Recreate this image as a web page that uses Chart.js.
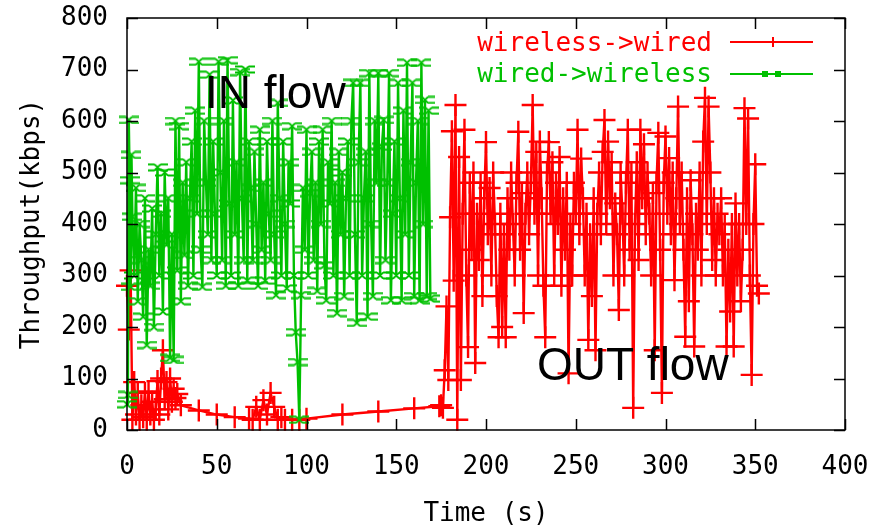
<!DOCTYPE html>
<html><head><meta charset="utf-8">
<script src="https://cdn.jsdelivr.net/npm/chart.js@4"></script>
<style>html,body{margin:0;padding:0;background:#fff;}#wrap{width:879px;height:527px;position:relative;}</style>
</head><body><div id="wrap"><canvas id="c" width="879" height="527"></canvas></div>
<script>
// ---- data ----
const seriesNames = ['wireless->wired', 'wired->wireless'];
const xTicks = [0, 50, 100, 150, 200, 250, 300, 350, 400];
const yTicks = [0, 100, 200, 300, 400, 500, 600, 700, 800];
const xTitle = 'Time (s)';
const yTitle = 'Throughput(kbps)';
const notes = ['IN flow', 'OUT flow'];

// wireless->wired : sample times (s)
const redTime = [
  0,1,2,3,4,5,6,7,8,9,10,11,12,13,14,15,16,17,18,19,20,21,22,23,24,25,26,27,28,
  30,40,50,60,68,70,72,74,76,78,80,82,84,86,88,92,96,100,120,140,160,
  174,175,176,177,178,179,180,181,182,183,
  184,185,186,187,188,189,190,191,192,193,
  194,195,196,197,198,199,200,201,202,203,
  204,205,206,207,208,209,210,211,212,213,
  214,215,216,217,218,219,220,221,222,223,
  224,225,226,227,228,229,230,231,232,233,
  234,235,236,237,238,239,240,241,242,243,
  244,245,246,247,248,249,250,251,252,253,
  254,255,256,257,258,259,260,261,262,263,
  264,265,266,267,268,269,270,271,272,273,
  274,275,276,277,278,279,280,281,282,283,
  284,285,286,287,288,289,290,291,292,293,
  294,295,296,297,298,299,300,301,302,303,
  304,305,306,307,308,309,310,311,312,313,
  314,315,316,317,318,319,320,321,322,323,
  324,325,326,327,328,329,330,331,332,333,
  334,335,336,337,338,339,340,341,342,343,
  344,345,346,347,348,349,350,351,352];
// wireless->wired : throughput (kbps)
const redVals = [
  280,195,310,20,93,30,72,20,48,25,72,20,75,30,55,20,40,95,30,100,155,60,93,40,100,55,80,62,70,
  48,38,30,25,22,20,45,20,58,30,72,45,20,25,20,20,20,22,30,36,42,
  46,48,43,116,240,97,413,580,290,631,
  20,530,97,420,583,300,161,480,350,500,
  130,420,330,480,260,450,559,380,470,300,
  500,400,260,180,420,200,380,180,450,350,
  500,400,300,480,579,350,460,227,420,500,
  380,480,631,420,540,300,560,450,280,180,
  500,559,420,520,300,480,400,530,280,450,
  350,480,110,400,300,480,420,583,380,527,
  450,300,420,175,380,260,450,155,420,500,
  380,540,602,400,560,450,520,300,440,380,
  233,500,420,300,480,583,350,500,43,400,
  520,330,583,450,555,380,500,420,300,460,
  155,480,577,350,72,480,570,420,528,380,
  500,291,450,628,400,500,350,181,450,250,
  485,380,162,420,350,500,300,560,645,400,
  628,500,330,450,300,420,380,450,300,400,
  162,350,230,400,162,440,300,400,250,350,
  625,400,605,300,107,400,516,280,265];

// wired->wireless : sample times (s)
const greenTime = [
  0,0.5,1,1.5,2,2.5,3,
  4,5,6,7,8,9,10,11,12,13,
  14,15,16,17,18,19,20,21,22,23,
  24,25,26,27,28,29,30,31,32,33,
  34,35,36,37,38,39,40,41,42,43,
  44,45,46,47,48,49,50,51,52,53,
  54,55,56,57,58,59,60,61,62,63,
  64,65,66,67,68,69,70,71,72,73,
  74,75,76,77,78,79,80,81,82,83,
  84,85,86,87,88,89,90,91,92,93,
  94,95,96,97,98,99,100,101,102,103,
  104,105,106,107,108,109,110,111,112,113,
  114,115,116,117,118,119,120,121,122,123,
  124,125,126,127,128,129,130,131,132,133,
  134,135,136,137,138,139,140,141,142,143,
  144,145,146,147,148,149,150,151,152,153,
  154,155,156,157,158,159,160,161,162,163,
  164,165,166,167,168,169];
// wired->wireless : throughput (kbps)
const greenVals = [
  50,68,602,485,278,534,414,
  300,470,250,400,330,220,450,165,350,280,
  430,200,380,510,300,420,230,500,360,450,
  140,380,136,600,310,590,250,480,340,520,
  280,450,560,300,620,420,715,350,278,600,
  480,380,690,330,560,420,300,715,500,330,
  600,280,718,440,300,640,380,520,280,695,
  450,330,700,290,560,470,330,540,400,280,
  583,350,480,290,560,420,330,600,380,262,
  635,450,300,560,400,275,520,440,590,300,
  190,132,20,262,470,350,583,300,460,540,
  330,480,270,560,400,583,320,252,520,440,
  600,300,480,227,540,380,500,260,450,560,
  300,600,674,380,208,520,674,300,450,540,
  220,693,400,260,600,480,693,300,550,602,
  330,480,693,252,420,560,300,674,450,252,
  620,380,713,300,520,674,260,480,600,252,
  713,400,641,260,620,255];

// ---- rendering ----
const RED = '#ff0000', GREEN = '#00c000';
const MONO = '"DejaVu Sans Mono", monospace';

function makeGreenMark() {
  const c = document.createElement('canvas');
  c.width = 20; c.height = 9;
  const g = c.getContext('2d');
  g.strokeStyle = GREEN; g.lineWidth = 1.8;
  g.beginPath();
  g.moveTo(0, 1.5); g.lineTo(7, 1.5); g.moveTo(0, 7.5); g.lineTo(7, 7.5);
  g.moveTo(13, 1.5); g.lineTo(20, 1.5); g.moveTo(13, 7.5); g.lineTo(20, 7.5);
  g.moveTo(7, 1.5); g.lineTo(13, 7.5); g.moveTo(7, 7.5); g.lineTo(13, 1.5);
  g.stroke();
  return c;
}
const greenMark = makeGreenMark();

const toPts = (ts, vs) => ts.map((t, i) => ({x: t, y: vs[i]}));

const framePlugin = {
  id: 'frame',
  afterDatasetsDraw(chart) {
    const {ctx, chartArea: a, scales: {x, y}} = chart;
    ctx.save();
    // annotations
    ctx.fillStyle = '#000';
    ctx.font = '46px "Liberation Sans", Arial, sans-serif';
    ctx.textBaseline = 'alphabetic';
    ctx.textAlign = 'left';
    ctx.fillText(notes[0], x.getPixelForValue(43.5), y.getPixelForValue(625));
    ctx.fillText(notes[1], x.getPixelForValue(228.4), y.getPixelForValue(97));
    // border + inward ticks
    ctx.strokeStyle = '#000';
    ctx.lineWidth = 1.5;
    ctx.strokeRect(a.left, a.top, a.right - a.left, a.bottom - a.top);
    const L = 11;
    ctx.beginPath();
    xTicks.forEach(v => {
      const p = Math.round(x.getPixelForValue(v)) + 0.5;
      ctx.moveTo(p, a.bottom); ctx.lineTo(p, a.bottom - L);
      ctx.moveTo(p, a.top); ctx.lineTo(p, a.top + L);
    });
    yTicks.forEach(v => {
      const p = Math.round(y.getPixelForValue(v)) + 0.5;
      ctx.moveTo(a.left, p); ctx.lineTo(a.left + L, p);
      ctx.moveTo(a.right, p); ctx.lineTo(a.right - L, p);
    });
    ctx.stroke();
    // legend (gnuplot style key, top right inside)
    ctx.font = '26px ' + MONO;
    ctx.textAlign = 'right';
    ctx.textBaseline = 'middle';
    const tx = a.right - 133;
    const y1 = a.top + 26, y2 = a.top + 57;
    ctx.fillStyle = RED; ctx.fillText(seriesNames[0], tx, y1);
    ctx.fillStyle = GREEN; ctx.fillText(seriesNames[1], tx, y2);
    const sx1 = a.right - 115, sx2 = a.right - 32;
    ctx.lineWidth = 2;
    ctx.strokeStyle = RED;
    ctx.beginPath(); ctx.moveTo(sx1, y1 - 2); ctx.lineTo(sx2, y1 - 2);
    const mx = a.right - 72;
    ctx.moveTo(mx, y1 - 7); ctx.lineTo(mx, y1 + 3);
    ctx.stroke();
    ctx.strokeStyle = GREEN;
    ctx.beginPath(); ctx.moveTo(sx1, y2 - 1); ctx.lineTo(sx2, y2 - 1); ctx.stroke();
    ctx.fillStyle = GREEN;
    ctx.fillRect(a.right - 83, y2 - 4, 6, 6);
    ctx.fillRect(a.right - 70, y2 - 4, 6, 6);
    ctx.restore();
  }
};

function zeroPad(s) { s.paddingTop = 0; s.paddingBottom = 0; s.paddingLeft = 0; s.paddingRight = 0; }

new Chart(document.getElementById('c'), {
  type: 'scatter',
  data: {
    datasets: [
      {
        label: seriesNames[0],
        data: toPts(redTime, redVals),
        showLine: true, tension: 0,
        borderColor: RED, borderWidth: 2.4,
        pointStyle: 'cross', pointRadius: 11, pointBorderWidth: 2.4,
        pointBorderColor: RED, pointBackgroundColor: RED,
        clip: false, order: 1
      },
      {
        label: seriesNames[1],
        data: toPts(greenTime, greenVals),
        showLine: true, tension: 0,
        borderColor: GREEN, borderWidth: 2.4,
        pointStyle: greenMark, pointRadius: 10,
        clip: false, order: 0
      }
    ]
  },
  options: {
    responsive: false, animation: false, devicePixelRatio: 1,
    layout: {padding: {top: 18, right: 34, bottom: 0, left: 0}},
    plugins: {legend: {display: false}, tooltip: {enabled: false}},
    scales: {
      x: {
        type: 'linear', min: 0, max: 400,
        afterBuildTicks: s => { s.ticks = xTicks.map(v => ({value: v})); },
        afterFit: s => { s.height = 97; zeroPad(s); },
        grid: {display: false, drawTicks: false},
        border: {display: false},
        ticks: {color: '#000', font: {family: MONO, size: 26}, padding: 22, maxRotation: 0},
        title: {display: true, text: xTitle, color: '#000', font: {family: MONO, size: 26, lineHeight: 1}, padding: {top: 0, bottom: 0}}
      },
      y: {
        type: 'linear', min: 0, max: 800,
        afterBuildTicks: s => { s.ticks = yTicks.map(v => ({value: v})); },
        afterFit: s => { s.width = 127; zeroPad(s); },
        grid: {display: false, drawTicks: false},
        border: {display: false},
        ticks: {color: '#000', font: {family: MONO, size: 26}, padding: 19},
        title: {display: true, text: yTitle, color: '#000', font: {family: MONO, size: 26, lineHeight: 1}, padding: {top: 19, bottom: 0}}
      }
    }
  },
  plugins: [framePlugin]
});
</script>
</body></html>
